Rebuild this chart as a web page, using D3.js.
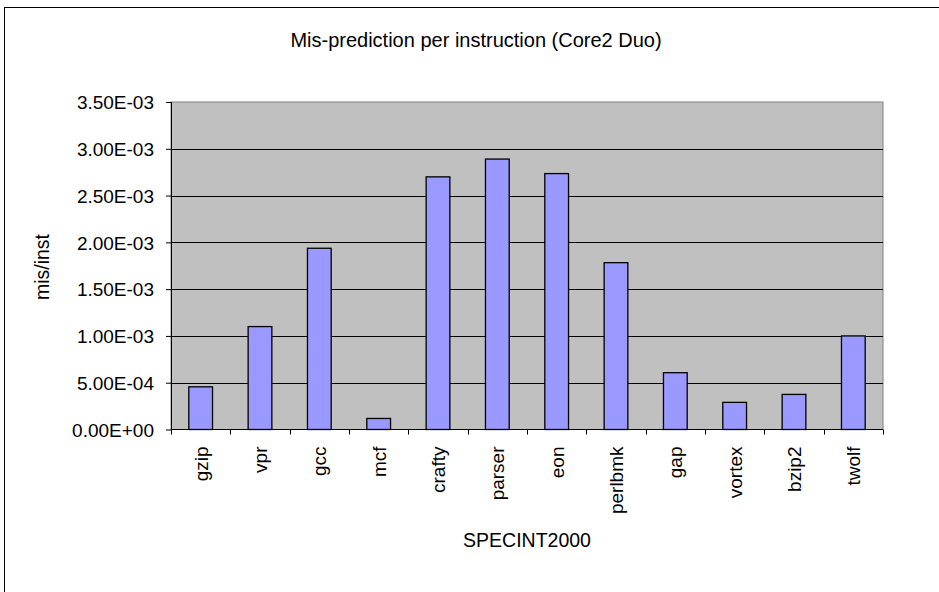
<!DOCTYPE html>
<html>
<head>
<meta charset="utf-8">
<script src="https://cdn.jsdelivr.net/npm/d3@7"></script>
<style>
  body { margin: 0; background: #fff; }
  svg text { font-family: "Liberation Sans", Arial, sans-serif; fill: #000; }
</style>
</head>
<body>
<svg id="chart" width="939" height="592"></svg>
<script>
var benchmarks = ["gzip", "vpr", "gcc", "mcf", "crafty", "parser", "eon", "perlbmk", "gap", "vortex", "bzip2", "twolf"];
var misPerInst = [4.56e-4, 1.10e-3, 1.937e-3, 1.18e-4, 2.70e-3, 2.89e-3, 2.735e-3, 1.783e-3, 6.07e-4, 2.9e-4, 3.75e-4, 1.00e-3];
var yTicks = [0, 5e-4, 1e-3, 1.5e-3, 2e-3, 2.5e-3, 3e-3, 3.5e-3];

var titleText = "Mis-prediction per instruction (Core2 Duo)",
  xTitle = "SPECINT2000",
  yTitle = "mis/inst";

var svg = d3.select("#chart"),
  plot = {left: 171, right: 883, top: 102, bottom: 429.5};

// excel style scientific format, e.g. 3.50E-03
function sci(v) {
  if (v === 0) return "0.00E+00";
  var e = Math.floor(Math.log10(v)),
    m = v / Math.pow(10, e);
  if (+m.toFixed(2) >= 10) { m = m / 10; e += 1; }
  return m.toFixed(2) + "E" + (e < 0 ? "-" : "+") + d3.format("02")(Math.abs(e));
}

var data = benchmarks.map(function (b, i) { return {name: b, value: misPerInst[i]}; });

var x = d3.scaleBand()
  .domain(benchmarks)
  .range([plot.left, plot.right])
  .paddingInner(0.6)
  .paddingOuter(0.3);

var y = d3.scaleLinear()
  .domain([0, 3.5e-3])
  .range([plot.bottom, plot.top]);

// outer chart frame
svg.append("rect")
  .attr("x", 4.5).attr("y", 7.5)
  .attr("width", 960).attr("height", 620)
  .attr("fill", "none")
  .attr("stroke", "#000");

svg.append("rect")
  .attr("x", plot.left).attr("y", plot.top)
  .attr("width", plot.right - plot.left)
  .attr("height", plot.bottom - plot.top)
  .attr("fill", "#c0c0c0")
  .attr("stroke", "#808080");

svg.append("g")
  .selectAll("line")
  .data(yTicks.slice(1, -1))
  .enter().append("line")
    .attr("x1", plot.left).attr("x2", plot.right)
    .attr("y1", function (d) { return Math.round(y(d)) + 0.5; })
    .attr("y2", function (d) { return Math.round(y(d)) + 0.5; })
    .attr("stroke", "#000");

svg.append("g")
  .selectAll("rect")
  .data(data)
  .enter().append("rect")
    .attr("x", function (d) { return x(d.name); })
    .attr("y", function (d) { return y(d.value); })
    .attr("width", x.bandwidth())
    .attr("height", function (d) { return plot.bottom - y(d.value); })
    .attr("fill", "#9999ff")
    .attr("stroke", "#000")
    .attr("stroke-width", 1.3);

// y axis
var yAxis = svg.append("g")
  .attr("transform", "translate(" + plot.left + ",0)")
  .call(d3.axisLeft(y).tickValues(yTicks).tickFormat(sci).tickSize(5).tickPadding(12));
yAxis.select(".domain").attr("stroke", "#000").attr("d", "M0.5," + plot.top + "V" + plot.bottom);
yAxis.selectAll("text").style("font-size", "19px").attr("dy", "0.36em");

// x axis: ticks on category boundaries, labels rotated at centers
var step = x.step();
var bounds = benchmarks.map(function (b) { return x(b) - x.paddingInner() * step / 2; });
bounds.push(plot.right);

var xAxis = svg.append("g");
xAxis.append("line")
  .attr("x1", plot.left).attr("x2", plot.right)
  .attr("y1", plot.bottom).attr("y2", plot.bottom)
  .attr("stroke", "#000");
xAxis.selectAll(".tick")
  .data(bounds)
  .enter().append("line")
    .attr("x1", function (d) { return Math.round(d) + 0.5; })
    .attr("x2", function (d) { return Math.round(d) + 0.5; })
    .attr("y1", plot.bottom).attr("y2", plot.bottom + 5)
    .attr("stroke", "#000");
xAxis.selectAll("text")
  .data(benchmarks)
  .enter().append("text")
    .attr("transform", function (d) {
      return "translate(" + (x(d) + x.bandwidth() / 2) + "," + (plot.bottom + 17) + ") rotate(-90)";
    })
    .attr("text-anchor", "end")
    .attr("dy", "0.36em")
    .style("font-size", "19px")
    .text(function (d) { return d; });

svg.append("text")
  .attr("x", 476).attr("y", 47)
  .attr("text-anchor", "middle")
  .style("font-size", "20px")
  .text(titleText);

svg.append("text")
  .attr("x", (plot.left + plot.right) / 2).attr("y", 547)
  .attr("text-anchor", "middle")
  .style("font-size", "19.5px")
  .text(xTitle);

svg.append("text")
  .attr("transform", "translate(49," + 267 + ") rotate(-90)")
  .attr("text-anchor", "middle")
  .style("font-size", "19.5px")
  .text(yTitle);
</script>
</body>
</html>
